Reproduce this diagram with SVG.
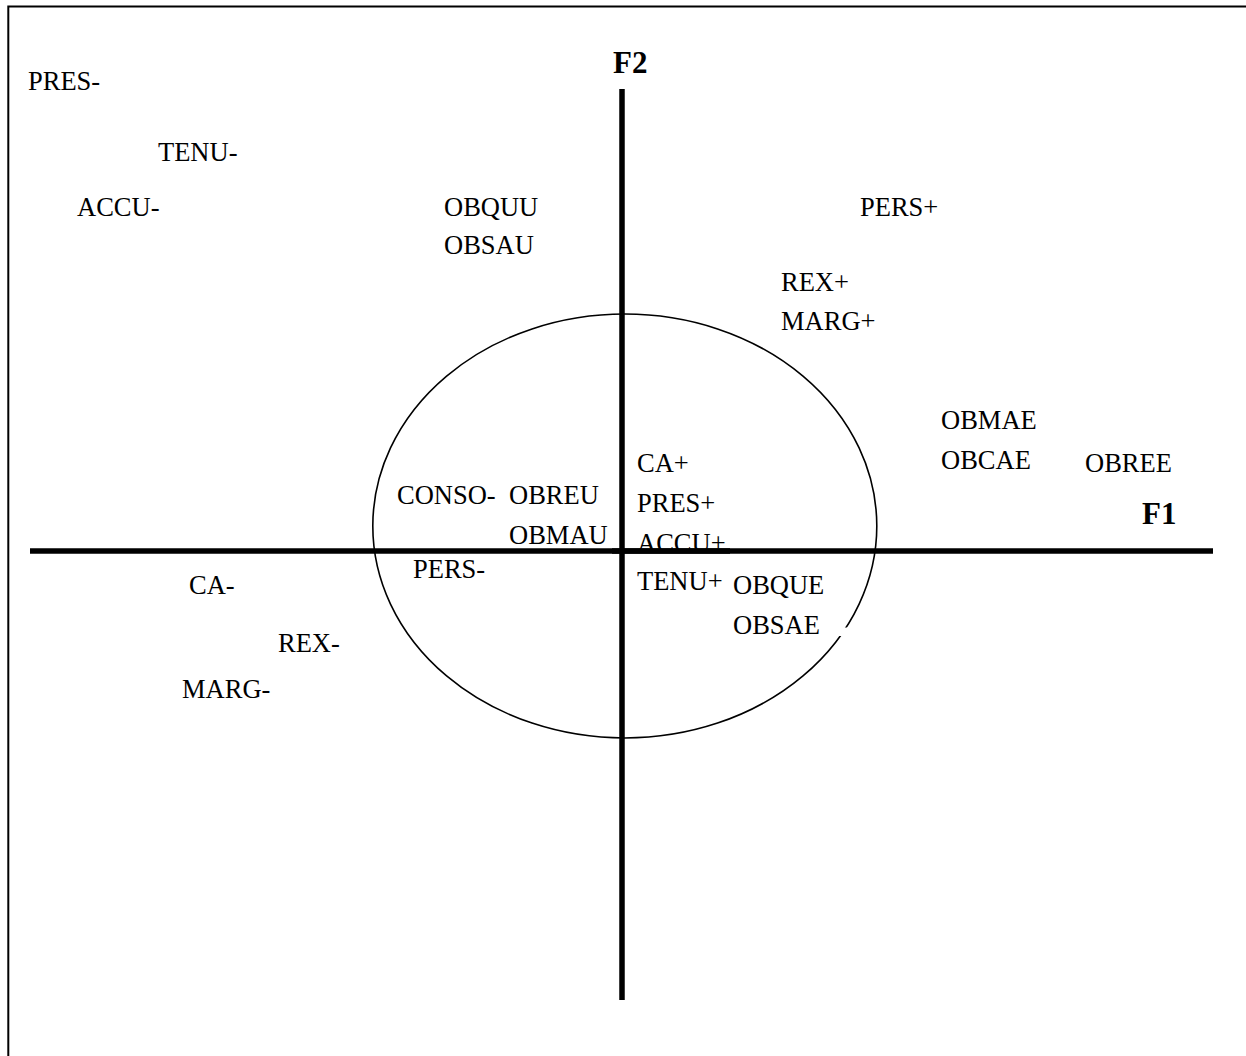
<svg xmlns="http://www.w3.org/2000/svg" width="1246" height="1056" viewBox="0 0 1246 1056">
<style>
.lbl{font-family:"Liberation Serif","Times New Roman",serif;font-size:26.5px;fill:#000}
.ax{font-family:"Liberation Serif","Times New Roman",serif;font-size:31px;font-weight:bold;fill:#000}
.axis{stroke:#000;stroke-width:5.5;fill:none}
</style>
<rect x="0" y="0" width="1246" height="1056" fill="#fff"/>
<g id="frame"><rect x="8.3" y="6.5" width="1300" height="1100" fill="none" stroke="#000" stroke-width="2"/></g>
<g id="connectors">
<ellipse cx="624.8" cy="526" rx="252" ry="212" fill="none" stroke="#000" stroke-width="1.6"/>
<rect x="835" y="627.5" width="15" height="8.5" fill="#fff"/>
<line class="axis" x1="30" y1="551" x2="1213" y2="551"/>
<line class="axis" x1="622" y1="89" x2="622" y2="1000"/>
</g>
<g id="axis-F2"><text class="ax" x="613" y="73">F2</text></g>
<g id="axis-F1"><text class="ax" x="1142" y="524">F1</text></g>
<g id="n-PRES-"><text class="lbl" x="28" y="90">PRES-</text></g>
<g id="n-TENU-"><text class="lbl" x="158" y="161">TENU-</text></g>
<g id="n-ACCU-"><text class="lbl" x="77" y="216">ACCU-</text></g>
<g id="n-OBQUU"><text class="lbl" x="444" y="216">OBQUU</text></g>
<g id="n-OBSAU"><text class="lbl" x="444" y="254">OBSAU</text></g>
<g id="n-PERS+"><text class="lbl" x="860" y="216">PERS+</text></g>
<g id="n-REX+"><text class="lbl" x="781" y="291">REX+</text></g>
<g id="n-MARG+"><text class="lbl" x="781" y="330">MARG+</text></g>
<g id="n-OBMAE"><text class="lbl" x="941" y="429">OBMAE</text></g>
<g id="n-OBCAE"><text class="lbl" x="941" y="469">OBCAE</text></g>
<g id="n-OBREE"><text class="lbl" x="1085" y="472">OBREE</text></g>
<g id="n-CA+"><text class="lbl" x="637" y="472">CA+</text></g>
<g id="n-PRES+"><text class="lbl" x="637" y="512">PRES+</text></g>
<g id="n-ACCU+"><text class="lbl" x="637" y="552">ACCU+</text></g>
<g id="n-TENU+"><text class="lbl" x="637" y="590">TENU+</text></g>
<g id="n-OBQUE"><text class="lbl" x="733" y="594">OBQUE</text></g>
<g id="n-OBSAE"><text class="lbl" x="733" y="634">OBSAE</text></g>
<g id="n-CONSO-"><text class="lbl" x="397" y="504">CONSO-</text></g>
<g id="n-OBREU"><text class="lbl" x="509" y="504">OBREU</text></g>
<g id="n-OBMAU"><text class="lbl" x="509" y="544">OBMAU</text></g>
<g id="n-PERS-"><text class="lbl" x="413" y="578">PERS-</text></g>
<g id="n-CA-"><text class="lbl" x="189" y="594">CA-</text></g>
<g id="n-REX-"><text class="lbl" x="278" y="652">REX-</text></g>
<g id="n-MARG-"><text class="lbl" x="182" y="698">MARG-</text></g>
<line class="axis" x1="612" y1="551" x2="730" y2="551"/>
</svg>
